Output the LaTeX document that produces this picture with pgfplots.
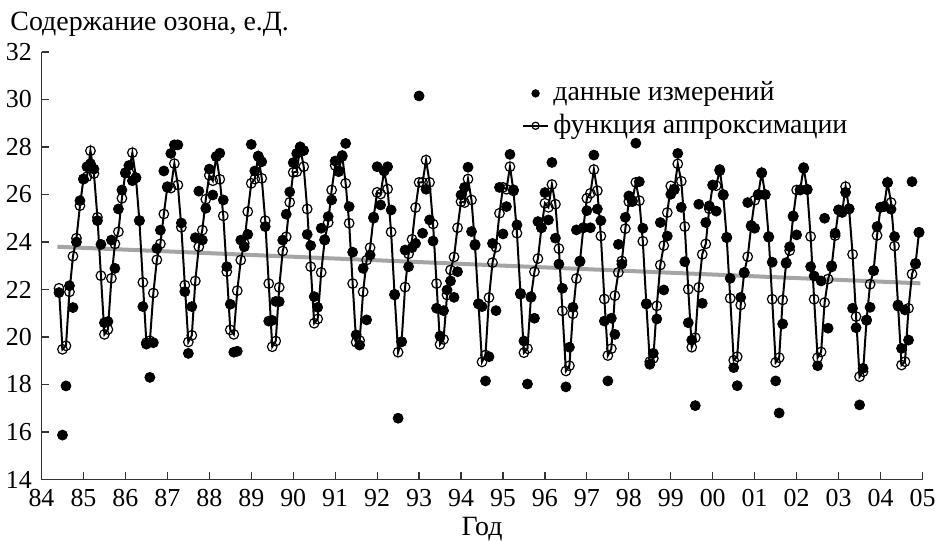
\documentclass[border=0pt]{standalone}
\usepackage{fontspec}
\setmainfont{Liberation Serif}
\usepackage{pgfplots}
\pgfplotsset{compat=1.18}
\usepackage{pgfplotstable}

% yr mo: year (100+ = 2000s) and month; f: fitted function; m: measured
\pgfplotstableread{
yr mo f m
84 6 22.05 21.87
84 7 19.48 15.87
84 8 19.63 17.94
84 9 21.90 22.16
84 10 23.40 21.24
84 11 24.16 24.00
84 12 25.53 25.74
85 1 26.65 26.65
85 2 26.75 27.17
85 3 27.84 27.30
85 4 26.88 27.07
85 5 25.04 24.90
85 6 22.58 23.90
85 7 20.11 20.60
85 8 20.32 20.65
85 9 22.47 24.08
85 10 23.92 22.89
85 11 24.43 25.39
85 12 25.84 26.19
86 1 26.92 26.90
86 2 26.92 27.22
86 3 27.76 26.58
86 4 26.71 26.70
86 5 24.90 24.90
86 6 22.30 21.28
86 7 19.76 19.70
86 8 19.84 18.30
86 9 21.85 19.76
86 10 23.25 23.73
86 11 23.92 24.50
86 12 25.18 26.99
87 1 26.33 26.30
87 2 26.27 27.73
87 3 27.30 28.09
87 4 26.40 28.09
87 5 24.62 24.80
87 6 22.18 21.91
87 7 19.79 19.31
87 8 20.07 21.28
87 9 22.36 24.18
87 10 23.80 26.14
87 11 24.50 24.08
87 12 25.80 25.42
88 1 26.81 27.07
88 2 26.58 25.98
88 3 27.60 27.60
88 4 26.64 27.74
88 5 25.10 25.77
88 6 22.75 22.96
88 7 20.30 21.38
88 8 20.11 19.36
88 9 21.95 19.40
88 10 23.24 24.08
88 11 23.94 23.80
88 12 25.28 24.32
89 1 26.47 28.11
89 2 26.65 26.99
89 3 27.62 27.60
89 4 26.68 27.38
89 5 24.90 24.65
89 6 22.25 20.67
89 7 19.59 20.70
89 8 19.83 21.50
89 9 22.09 21.49
89 10 23.62 24.08
89 11 24.22 25.17
89 12 25.67 26.11
90 1 26.93 27.34
90 2 26.96 27.73
90 3 28.00 28.00
90 4 27.17 27.85
90 5 25.39 24.32
90 6 22.96 23.85
90 7 20.58 21.70
90 8 20.76 21.25
90 9 22.72 24.58
90 10 24.08 24.10
90 11 24.82 25.07
90 12 26.19 25.77
91 1 27.22 27.41
91 2 26.96 27.00
91 3 27.64 27.60
91 4 26.47 28.15
91 5 24.79 25.49
91 6 22.25 23.57
91 7 19.78 20.09
91 8 19.85 19.66
91 9 21.90 22.89
91 10 23.24 20.72
91 11 23.76 23.45
91 12 25.05 25.00
92 1 26.09 27.17
92 2 26.02 25.56
92 3 26.99 27.00
92 4 26.23 27.17
92 5 24.42 25.35
92 6 21.77 21.80
92 7 19.36 16.58
92 8 19.80 19.80
92 9 22.10 23.66
92 10 23.50 22.96
92 11 24.11 23.76
92 12 25.45 23.94
93 1 26.51 30.15
93 2 26.51 24.37
93 3 27.45 26.22
93 4 26.51 24.93
93 5 24.76 24.04
93 6 22.25 21.21
93 7 19.69 20.04
93 8 19.90 21.11
93 9 21.77 21.98
93 10 22.82 22.36
93 11 23.37 21.67
93 12 24.60 22.75
94 1 25.70 25.98
94 2 25.66 26.30
94 3 26.65 27.15
94 4 25.77 24.44
94 5 23.86 23.90
94 6 21.39 21.40
94 7 18.95 21.28
94 8 19.24 18.15
94 9 21.66 19.17
94 10 23.13 23.94
94 11 23.78 21.11
94 12 25.21 26.30
95 1 26.30 24.34
95 2 26.22 25.49
95 3 27.17 27.69
95 4 26.15 26.20
95 5 24.37 24.72
95 6 21.84 21.80
95 7 19.34 19.83
95 8 19.51 18.02
95 9 21.67 21.70
95 10 22.75 20.79
95 11 23.30 24.86
95 12 24.60 24.60
96 1 25.63 26.08
96 2 25.46 24.93
96 3 26.42 27.35
96 4 25.59 24.16
96 5 23.72 23.07
96 6 21.10 22.05
96 7 18.57 17.90
96 8 18.79 19.57
96 9 20.98 21.25
96 10 22.46 24.51
96 11 23.17 23.20
96 12 24.60 24.60
97 1 25.84 25.32
97 2 26.05 24.60
97 3 27.05 27.66
97 4 26.16 25.39
97 5 24.25 24.90
97 6 21.60 20.67
97 7 19.22 18.15
97 8 19.51 20.79
97 9 21.74 20.11
97 10 22.72 23.90
97 11 23.20 23.07
97 12 24.56 25.04
98 1 25.70 25.94
98 2 25.74 25.70
98 3 26.51 28.16
98 4 25.74 26.54
98 5 24.03 24.58
98 6 21.39 21.40
98 7 18.96 18.85
98 8 19.10 19.31
98 9 21.31 20.76
98 10 23.03 24.82
98 11 23.85 21.98
98 12 25.24 24.25
99 1 26.36 26.01
99 2 26.23 26.20
99 3 27.29 27.73
99 4 26.56 25.46
99 5 24.65 23.17
99 6 22.01 20.60
99 7 19.57 19.87
99 8 19.97 17.11
99 9 22.09 25.59
99 10 23.48 21.42
99 11 23.92 24.82
99 12 25.40 25.52
100 1 26.39 26.40
100 2 26.37 25.30
100 3 27.05 27.00
100 4 25.97 26.00
100 5 24.18 24.20
100 6 21.63 22.47
100 7 19.02 18.71
100 8 19.17 17.95
100 9 21.35 21.67
100 10 22.72 22.70
100 11 23.38 25.66
100 12 24.66 24.70
101 1 25.76 24.58
101 2 25.98 26.00
101 3 26.92 26.90
101 4 25.99 26.00
101 5 24.23 24.20
101 6 21.59 23.15
101 7 18.93 18.15
101 8 19.13 16.80
101 9 21.56 20.55
101 10 23.13 23.10
101 11 23.64 23.80
101 12 25.07 25.10
102 1 26.19 24.30
102 2 26.19 26.20
102 3 27.13 27.10
102 4 26.22 26.20
102 5 24.23 22.96
102 6 21.59 22.57
102 7 19.13 18.79
102 8 19.37 22.36
102 9 21.45 25.00
102 10 22.44 20.37
102 11 22.95 23.00
102 12 24.27 24.37
103 1 25.35 25.35
103 2 25.25 25.25
103 3 26.33 26.09
103 4 25.39 25.40
103 5 23.48 21.21
103 6 20.86 20.39
103 7 18.33 17.14
103 8 18.54 18.68
103 9 20.72 20.70
103 10 22.22 21.25
103 11 22.79 22.80
103 12 24.28 24.65
104 1 25.46 25.46
104 2 25.49 25.50
104 3 26.51 26.50
104 4 25.66 25.38
104 5 23.83 24.23
104 6 21.35 21.30
104 7 18.82 19.52
104 8 18.96 21.14
104 9 21.21 19.87
104 10 22.65 26.54
104 11 23.07 23.10
104 12 24.41 24.40
}\ozone

\begin{document}
\fontsize{14}{16}\selectfont
\begin{tikzpicture}
\begin{axis}[
  name=ax,
  scale only axis,
  width=440.5bp, height=213.75bp,
  xmin=84, xmax=105, ymin=14, ymax=32,
  axis x line=bottom, axis y line=left,
  axis line style={-, line width=0.6bp, black!80},
  tick style={line width=0.6bp, black!80},
  tick align=inside,
  major tick length=3.5bp,
  xtick={84,...,105},
  xticklabels={84,85,86,87,88,89,90,91,92,93,94,95,96,97,98,99,00,01,02,03,04,05},
  ytick={14,16,...,32},
  /pgf/number format/assume math mode=true,
  ticklabel style={font=\fontsize{13}{15}\selectfont},
  xticklabel style={inner sep=2bp, yshift=-2.5bp},
  legend style={at={(0.538,0.95)}, anchor=north west, draw=none, fill=none,
    font=\fontsize{14}{16}\selectfont, row sep=0.5bp,
    /tikz/every even column/.append style={column sep=13bp}},
  legend cell align=left,
  legend image post style={scale=0.75},
  clip=false,
]
\addplot[color={rgb,255:red,165;green,165;blue,165}, line width=2bp, forget plot]
  coordinates {(84.38,23.80) (104.95,22.26)};
\addplot[only marks, mark=*, mark size=2.5bp, black]
  table[x expr=\thisrow{yr}+(\thisrow{mo}-1)/12, y=m] {\ozone};
\addlegendentry{данные измерений}
\addplot[black, line width=1bp, mark=o, mark size=2.4bp,
  mark options={fill=white, line width=0.6bp}]
  table[x expr=\thisrow{yr}+(\thisrow{mo}-1)/12, y=f] {\ozone};
\addlegendentry{функция аппроксимации}
\end{axis}
\node[anchor=base west, inner sep=0] at ([xshift=-15.75bp, yshift=10.5bp]ax.north west) {Содержание озона, е.Д.};
\node[anchor=base, inner sep=0] at ([yshift=-27.8bp]ax.south) {Год};
\pgfresetboundingbox
\useasboundingbox ([shift={(-20.75bp,-30.75bp)}]ax.south west) rectangle ([shift={(448.25bp,239.75bp)}]ax.south west);
\end{tikzpicture}
\end{document}
